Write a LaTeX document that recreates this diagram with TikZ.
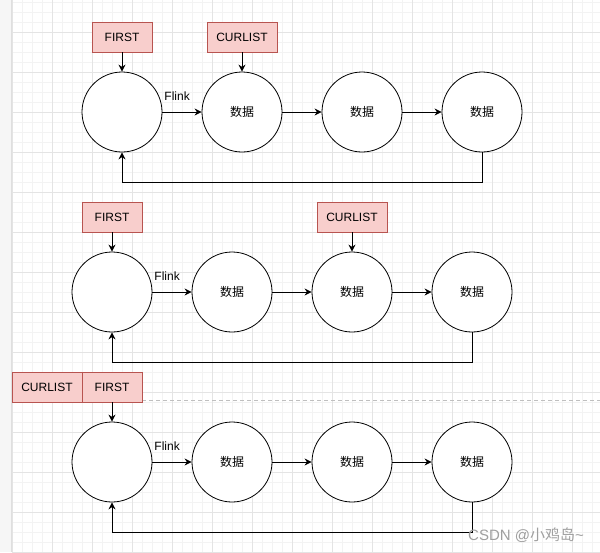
\documentclass[tikz,border=0pt]{standalone}
\usepackage{fontspec}
\setmainfont{Liberation Sans}
\newfontfamily\cjk{Noto Sans CJK SC}
\usetikzlibrary{arrows.meta, positioning}
\tikzset{>={Stealth[length=7pt,width=7pt]}}
\definecolor{boxfill}{HTML}{F8CECC}
\definecolor{boxline}{HTML}{B85450}
\definecolor{gridmajor}{HTML}{E4E4E4}
\definecolor{gridminor}{HTML}{F3F3F3}

\begin{document}
\begin{tikzpicture}[x=1pt, y=-1pt, font=\fontsize{12}{14}\selectfont,
    ptr/.style={draw=boxline, fill=boxfill, minimum height=30pt, minimum width=60pt, inner sep=0pt, line width=0.8pt},
    elem/.style={draw, circle, minimum size=80pt, inner sep=0pt, line width=0.8pt, fill=white},
    link/.style={->, line width=1pt}]
    % canvas and grid
    \useasboundingbox (0,0) rectangle (600,552);
    \fill[white] (0,0) rectangle (600,552);
    \fill[gray!7] (0,0) rectangle (11,552);
    \foreach \i in {12,22,...,600} \draw[gridminor] (\i,0) -- (\i,552);
    \foreach \j in {2,12,...,552} \draw[gridminor] (12,\j) -- (600,\j);
    \foreach \i in {12,52,...,600} \draw[gridmajor] (\i,0) -- (\i,552);
    \foreach \j in {32,72,...,552} \draw[gridmajor] (12,\j) -- (600,\j);
    \draw[gray!25] (11.5,0) -- (11.5,552);
    \draw[gray!50, dash pattern=on 4pt off 3pt] (142,400) -- (600,400);

    % first list
    \node[ptr] (first1) at (122,37) {FIRST};
    \node[ptr, minimum width=70pt] (cur1) at (242,37) {CURLIST};
    \node[elem] (head1) at (122,112) {};
    \node[elem] (data11) at (242,112) {\cjk 数据};
    \node[elem] (data12) at (362,112) {\cjk 数据};
    \node[elem] (data13) at (482,112) {\cjk 数据};
    \draw[link] (first1) -- (head1);
    \draw[link] (cur1) -- (data11);
    \draw[link] (head1) -- node[pos=0.375, above=11pt, inner sep=0pt] {Flink} (data11);
    \draw[link] (data11) -- (data12);
    \draw[link] (data12) -- (data13);
    \draw[link] (data13.south) -- ++(0,30) -| (head1.south);

    % second list
    \node[ptr] (first2) at (112,217) {FIRST};
    \node[ptr, minimum width=70pt] (cur2) at (352,217) {CURLIST};
    \node[elem] (head2) at (112,292) {};
    \node[elem] (data21) at (232,292) {\cjk 数据};
    \node[elem] (data22) at (352,292) {\cjk 数据};
    \node[elem] (data23) at (472,292) {\cjk 数据};
    \draw[link] (first2) -- (head2);
    \draw[link] (cur2) -- (data22);
    \draw[link] (head2) -- node[pos=0.375, above=11pt, inner sep=0pt] {Flink} (data21);
    \draw[link] (data21) -- (data22);
    \draw[link] (data22) -- (data23);
    \draw[link] (data23.south) -- ++(0,30) -| (head2.south);

    % third list
    \node[ptr, minimum width=70pt] (cur3) at (47,387) {CURLIST};
    \node[ptr] (first3) at (112,387) {FIRST};
    \node[elem] (head3) at (112,462) {};
    \node[elem] (data31) at (232,462) {\cjk 数据};
    \node[elem] (data32) at (352,462) {\cjk 数据};
    \node[elem] (data33) at (472,462) {\cjk 数据};
    \draw[link] (first3) -- (head3);
    \draw[link] (head3) -- node[pos=0.375, above=11pt, inner sep=0pt] {Flink} (data31);
    \draw[link] (data31) -- (data32);
    \draw[link] (data32) -- (data33);
    \draw[link] (data33.south) -- ++(0,30) -| (head3.south);

    \node[text=gray!75, font=\fontsize{15}{18}\selectfont] (mark) at (526,535) {CSDN @{\cjk 小鸡岛}\textasciitilde};
\end{tikzpicture}
\end{document}
